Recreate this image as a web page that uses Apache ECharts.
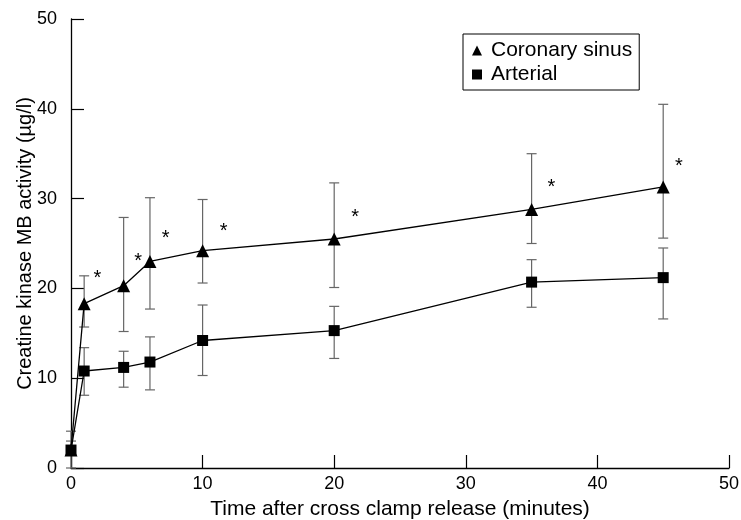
<!DOCTYPE html>
<html>
<head>
<meta charset="utf-8">
<script src="https://cdn.jsdelivr.net/npm/echarts@6/dist/echarts.min.js"></script>
<style>html,body{margin:0;padding:0;background:#fff}#c{width:741px;height:520px}</style>
</head>
<body>
<div id="c"></div>
<script>
const times = [0, 1, 4, 6, 10, 20, 35, 45];
const coronary = [2.0, 18.3, 20.3, 23.0, 24.2, 25.5, 28.8, 31.3];
const coronaryLow = [0, 15.7, 15.2, 17.7, 20.6, 20.1, 25.0, 25.6];
const coronaryHigh = [4.1, 21.4, 27.9, 30.1, 29.9, 31.75, 35.0, 40.5];
const arterial = [2.0, 10.8, 11.2, 11.8, 14.2, 15.3, 20.7, 21.2];
const arterialLow = [2.0, 8.1, 9.0, 8.7, 10.3, 12.2, 17.9, 16.6];
const arterialHigh = [3.0, 13.4, 13.0, 14.6, 18.15, 18.0, 23.2, 24.5];
const starX = [2.0, 5.1, 7.2, 11.6, 21.6, 36.5, 46.2];
const starY = [21.8, 23.7, 26.2, 27.0, 28.6, 31.9, 34.2];

const FONT = 'Liberation Sans, Arial, sans-serif';
const chart = echarts.init(document.getElementById('c'));

function errData(lo, hi) {
  return times.map((t, i) => [t, lo[i], hi[i]]);
}
function errRender(params, api) {
  const x = api.value(0);
  const p1 = api.coord([x, api.value(1)]);
  const p2 = api.coord([x, api.value(2)]);
  const w = 5;
  const st = { stroke: '#666', lineWidth: 1.2 };
  return {
    type: 'group',
    children: [
      { type: 'line', shape: { x1: p1[0], y1: p1[1], x2: p2[0], y2: p2[1] }, style: st },
      { type: 'line', shape: { x1: p1[0] - w, y1: p1[1], x2: p1[0] + w, y2: p1[1] }, style: st },
      { type: 'line', shape: { x1: p2[0] - w, y1: p2[1], x2: p2[0] + w, y2: p2[1] }, style: st }
    ]
  };
}

chart.setOption({
  animation: false,
  backgroundColor: '#fff',
  grid: { left: 71, right: 12, top: 19, bottom: 52, containLabel: false, outerBoundsMode: 'none' },
  legend: {
    left: 463, top: 34,
    orient: 'vertical',
    borderColor: '#000', borderWidth: 1, borderRadius: 0,
    padding: [6, 7, 5, 9],
    itemGap: 3,
    itemWidth: 10, itemHeight: 10,
    textStyle: { fontFamily: FONT, fontSize: 21, color: '#000', padding: [0, 0, 0, 4] },
    data: [
      { name: 'Coronary sinus', icon: 'triangle' },
      { name: 'Arterial', icon: 'rect' }
    ]
  },
  xAxis: {
    type: 'value', min: 0, max: 50, interval: 10,
    name: 'Time after cross clamp release (minutes)',
    nameLocation: 'middle', nameGap: 31, nameMoveOverlap: false,
    nameTextStyle: { fontFamily: FONT, fontSize: 21, color: '#000' },
    axisLine: { show: true, lineStyle: { color: '#000', width: 1.3 } },
    axisTick: { show: true, inside: true, length: 13, lineStyle: { color: '#000', width: 1.2 } },
    axisLabel: { fontFamily: FONT, fontSize: 18, color: '#000', margin: 7 },
    splitLine: { show: false }
  },
  yAxis: {
    type: 'value', min: 0, max: 50, interval: 10,
    name: 'Creatine kinase MB activity (µg/l)',
    nameLocation: 'middle', nameGap: 36, nameRotate: 90, nameMoveOverlap: false,
    nameTextStyle: { fontFamily: FONT, fontSize: 20, color: '#000' },
    axisLine: { show: true, lineStyle: { color: '#000', width: 1.3 } },
    axisTick: { show: true, inside: true, length: 13, lineStyle: { color: '#000', width: 1.2 } },
    axisLabel: { fontFamily: FONT, fontSize: 18, color: '#000', margin: 14 },
    splitLine: { show: false }
  },
  series: [
    { type: 'custom', name: 'errC', renderItem: errRender, data: errData(coronaryLow, coronaryHigh), z: 1, silent: true },
    { type: 'custom', name: 'errA', renderItem: errRender, data: errData(arterialLow, arterialHigh), z: 1, silent: true },
    {
      type: 'line', name: 'Coronary sinus',
      data: times.map((t, i) => [t, coronary[i]]),
      symbol: 'triangle', symbolSize: 13,
      itemStyle: { color: '#000' },
      lineStyle: { color: '#000', width: 1.3 },
      z: 3
    },
    {
      type: 'line', name: 'Arterial',
      data: times.map((t, i) => [t, arterial[i]]),
      symbol: 'rect', symbolSize: 11,
      itemStyle: { color: '#000' },
      lineStyle: { color: '#000', width: 1.3 },
      z: 3
    },
    {
      type: 'custom', name: 'stars', silent: true,
      data: starX.map((x, i) => [x, starY[i]]),
      renderItem: function (params, api) {
        const p = api.coord([api.value(0), api.value(1)]);
        return {
          type: 'text',
          style: { text: '*', x: p[0], y: p[1] + 6, fontFamily: FONT, fontSize: 20, fill: '#000', textAlign: 'center', textVerticalAlign: 'middle' }
        };
      },
      z: 4
    }
  ]
});
</script>
</body>
</html>
